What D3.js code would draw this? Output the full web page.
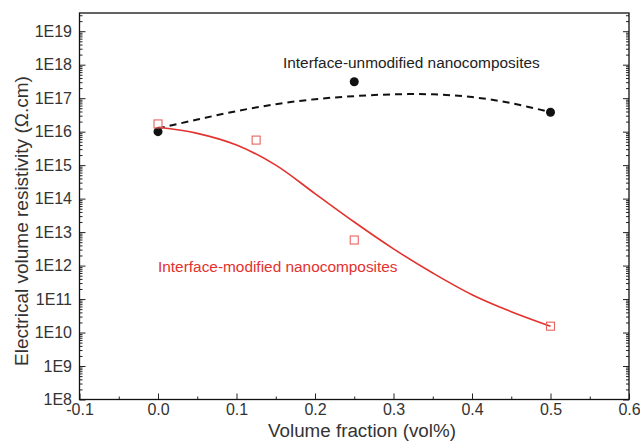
<!DOCTYPE html>
<html>
<head>
<meta charset="utf-8">
<script src="https://cdn.jsdelivr.net/npm/d3@7"></script>
<style>
  html, body { margin: 0; padding: 0; background: #fff; }
  svg { display: block; font-family: Arial, "Liberation Sans", sans-serif; }
</style>
</head>
<body>
<svg id="chart" width="640" height="442"></svg>
<script>
// Measured resistivity (ohm.cm) vs. nanofiller volume fraction
const unmodifiedX = [0, 0.25, 0.5];
const unmodifiedValues = [1.0e16, 3.1e17, 3.8e16];
const modifiedX = [0, 0.125, 0.25, 0.5];
const modifiedValues = [1.7e16, 5.6e15, 5.8e12, 1.55e10];

// Fitted trend curves
const unmodFitX = [0, 0.05, 0.1, 0.15, 0.2, 0.25, 0.3, 0.35, 0.4, 0.45, 0.5];
const unmodFitValues = [1.25e16, 2.3e16, 4.1e16, 6.6e16, 9.3e16, 1.15e17, 1.3e17, 1.3e17, 1.08e17, 7.1e16, 3.8e16];
const modFitX = [0, 0.05, 0.1, 0.15, 0.2, 0.25, 0.3, 0.35, 0.4, 0.45, 0.5];
const modFitValues = [1.35e16, 8.9e15, 3.98e15, 1.0e15, 1.41e14, 2.0e13, 3.16e12, 6.0e11, 1.35e11, 4.2e10, 1.55e10];

const xTicks = [-0.1, 0, 0.1, 0.2, 0.3, 0.4, 0.5, 0.6];
const xTickLabels = ["-0.1", "0.0", "0.1", "0.2", "0.3", "0.4", "0.5", "0.6"];
const yExponents = [8, 9, 10, 11, 12, 13, 14, 15, 16, 17, 18, 19];

const unmodLabel = "Interface-unmodified nanocomposites";
const modLabel = "Interface-modified nanocomposites";
const xTitle = "Volume fraction (vol%)";
const yTitle = "Electrical volume resistivity (\u03A9.cm)";

const svg = d3.select("#chart");
const margin = { left: 79.5, right: 11, top: 13, bottom: 42.5 };
const W = 640, H = 442;
const x = d3.scaleLinear().domain([-0.1, 0.6]).range([margin.left, W - margin.right]);
const y = d3.scaleLog().domain([1e8, 3.5e19]).range([H - margin.bottom, margin.top]);

const tickColor = "#222";
const textColor = "#333";
const red = "#e3322d";

// minor tick values
const yMinor = [];
for (let e = 8; e <= 19; e++) {
  for (let m = 2; m <= 9; m++) {
    const v = m * Math.pow(10, e);
    if (v <= y.domain()[1]) yMinor.push(v);
  }
}
const xMinor = d3.range(-0.05, 0.6, 0.1);

function styleAxis(g) {
  g.select(".domain").remove();
  g.selectAll("line").attr("stroke", tickColor).attr("stroke-width", 1);
  g.selectAll("text").attr("fill", textColor).attr("font-size", 16);
}

// left axis
svg.append("g").attr("transform", `translate(${margin.left},0)`)
  .call(d3.axisLeft(y).tickValues(yMinor).tickSize(-3).tickFormat(""))
  .call(styleAxis);
svg.append("g").attr("transform", `translate(${margin.left},0)`)
  .call(d3.axisLeft(y).tickValues(yExponents.map(e => Math.pow(10, e))).tickSize(-6).tickPadding(7.5)
    .tickFormat(d => "1E" + Math.round(Math.log10(d))))
  .call(styleAxis);

// right axis
svg.append("g").attr("transform", `translate(${W - margin.right},0)`)
  .call(d3.axisRight(y).tickValues(yMinor).tickSize(-3).tickFormat(""))
  .call(styleAxis);
svg.append("g").attr("transform", `translate(${W - margin.right},0)`)
  .call(d3.axisRight(y).tickValues(yExponents.map(e => Math.pow(10, e))).tickSize(-6).tickFormat(""))
  .call(styleAxis);

// bottom axis
svg.append("g").attr("transform", `translate(0,${H - margin.bottom})`)
  .call(d3.axisBottom(x).tickValues(xMinor).tickSize(-3).tickFormat(""))
  .call(styleAxis);
svg.append("g").attr("transform", `translate(0,${H - margin.bottom})`)
  .call(d3.axisBottom(x).tickValues(xTicks).tickSize(-6).tickPadding(4)
    .tickFormat((d, i) => xTickLabels[i]))
  .call(styleAxis);

// frame
svg.append("rect")
  .attr("x", margin.left).attr("y", margin.top)
  .attr("width", W - margin.left - margin.right)
  .attr("height", H - margin.top - margin.bottom)
  .attr("fill", "none").attr("stroke", "#111").attr("stroke-width", 1.3);

// axis titles
svg.append("text")
  .attr("x", 362).attr("y", 437)
  .attr("text-anchor", "middle").attr("font-size", 18.8).attr("fill", textColor)
  .text(xTitle);
svg.append("text")
  .attr("transform", "translate(28,221) rotate(-90)")
  .attr("text-anchor", "middle").attr("font-size", 19).attr("fill", textColor)
  .text(yTitle);

// trend curves
const line = d3.line().curve(d3.curveCatmullRom.alpha(0.5)).x(d => x(d[0])).y(d => y(d[1]));
svg.append("path")
  .datum(unmodFitX.map((v, i) => [v, unmodFitValues[i]]))
  .attr("d", line).attr("fill", "none").attr("stroke", "#111")
  .attr("stroke-width", 2).attr("stroke-dasharray", "7,5");
svg.append("path")
  .datum(modFitX.map((v, i) => [v, modFitValues[i]]))
  .attr("d", line).attr("fill", "none").attr("stroke", red)
  .attr("stroke-width", 1.6);

// markers
svg.append("g").selectAll("circle")
  .data(unmodifiedX.map((v, i) => [v, unmodifiedValues[i]]))
  .join("circle")
  .attr("cx", d => x(d[0])).attr("cy", d => y(d[1])).attr("r", 4.5)
  .attr("fill", "#111");
svg.append("g").selectAll("rect")
  .data(modifiedX.map((v, i) => [v, modifiedValues[i]]))
  .join("rect")
  .attr("x", d => x(d[0]) - 4).attr("y", d => y(d[1]) - 4)
  .attr("width", 8).attr("height", 8)
  .attr("fill", "none").attr("stroke", "#e8625e").attr("stroke-width", 1.1);

// series labels
svg.append("text")
  .attr("x", 283).attr("y", 68)
  .attr("font-size", 15.4).attr("fill", "#222")
  .text(unmodLabel);
svg.append("text")
  .attr("x", 158).attr("y", 272)
  .attr("font-size", 15.4).attr("fill", red)
  .text(modLabel);
</script>
</body>
</html>
